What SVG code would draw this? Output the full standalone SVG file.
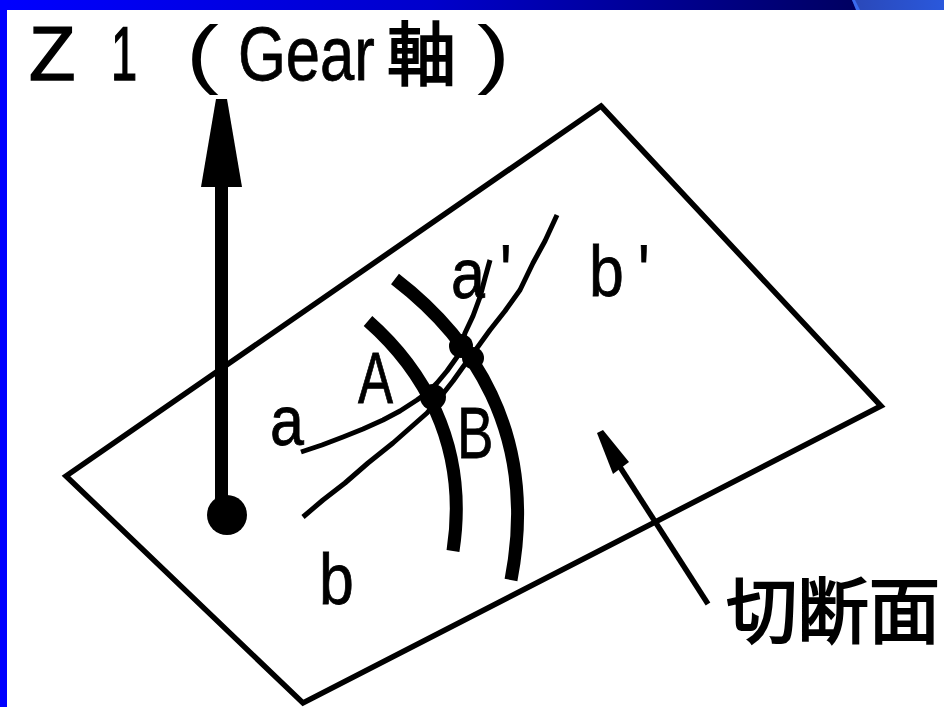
<svg xmlns="http://www.w3.org/2000/svg" width="944" height="707" viewBox="0 0 944 707">
<defs>
<linearGradient id="bar" x1="0" x2="1" y1="0" y2="0"><stop offset="0" stop-color="#0000ff"/><stop offset="0.5" stop-color="#0000cc"/><stop offset="1" stop-color="#000060"/></linearGradient>
<linearGradient id="tab" x1="0" x2="1" y1="0" y2="0"><stop offset="0" stop-color="#2a48b8"/><stop offset="1" stop-color="#2a58dc"/></linearGradient>
<style>
.l{font-family:"Liberation Sans",Arial,"Noto Sans CJK JP",sans-serif;fill:#000;stroke:#000;stroke-width:.8}
.c{font-family:"Noto Sans CJK JP","Liberation Sans",sans-serif;fill:#000;stroke:#000;stroke-width:2}
.t{fill:none;stroke:#000;stroke-width:5.5;stroke-linecap:butt}
.th{fill:none;stroke:#000;stroke-width:13}
.w{fill:none;stroke:#000;stroke-width:5;stroke-linejoin:round}
</style>
</defs>
<rect width="944" height="707" fill="#fff"/>
<g id="frame">
<rect x="0" y="0" width="860" height="10" fill="url(#bar)"/>
<rect x="0" y="0" width="7" height="707" fill="#0000ff"/>
<path d="M852 0H944V10H857Z" fill="url(#tab)"/>
<path d="M852 0H855L860 10H856Z" fill="#3a6af0"/>
</g>
<g id="title">
<text class="l" transform="translate(29 80)" font-size="76" style="stroke-width:1.5">Z</text>
<text class="l" transform="translate(111 80) scale(.62 1)" font-size="76" style="stroke-width:1.5">1</text>
<text class="l" transform="translate(186 79) scale(1.3 1)" font-size="76" style="stroke-width:0">(</text>
<text class="l" transform="translate(238 80) scale(.81 1)" font-size="76">Gear</text>
<text class="c" transform="translate(387 80)" font-size="69">軸</text>
<text class="l" transform="translate(477 79) scale(1.3 1)" font-size="76" style="stroke-width:0">)</text>
</g>
<g id="plane"><path class="t" d="M601 106L881 406L303 703L66 476Z"/></g>
<g id="axis">
<rect x="215" y="180" width="13" height="325"/>
<path d="M216 99H227L242 187H201Z"/>
<circle cx="227" cy="515" r="20"/>
</g>
<g id="curves">
<path class="w" d="M301 452L322 445L343 437L363 429L383 420L400 411L417 400L428 392L437 383L447 371L457 357L462 343L465 333L473 316L480 297L485 278L490 260"/>
<path class="w" d="M303 517L323 500L345 483L368 463L393 443L410 428L427 413L442 395L453 381L463 367L477 348L490 330L505 311L520 290L533 263L545 241L557 215"/>
<path class="th" d="M368 321C418 365 470 440 453 551"/>
<path class="th" d="M395 279C468 335 540 430 511 580"/>
<circle cx="433" cy="397" r="13"/>
<circle cx="461" cy="346" r="12"/>
<circle cx="473" cy="358" r="11"/>
</g>
<g id="labels">
<text class="l" transform="translate(270 445) scale(.87 1)" font-size="70">a</text>
<text class="l" transform="translate(358 403) scale(.73 1)" font-size="72">A</text>
<text class="l" transform="translate(457 458) scale(.76 1)" font-size="72">B</text>
<text class="l" transform="translate(451 298) scale(.87 1)" font-size="70">a</text>
<text class="l" transform="translate(500 298) scale(.8 1)" font-size="76">'</text>
<text class="l" transform="translate(589 296) scale(.87 1)" font-size="72">b</text>
<text class="l" transform="translate(638 298) scale(.8 1)" font-size="76">'</text>
<text class="l" transform="translate(319 604) scale(.87 1)" font-size="72">b</text>
</g>
<g id="section-label">
<path class="t" d="M708 604L620 467"/>
<path d="M597 433L603 430L629 462L613 474Z"/>
<text class="c" x="726" y="637" font-size="72" textLength="214" lengthAdjust="spacingAndGlyphs">切断面</text>
</g>
</svg>
